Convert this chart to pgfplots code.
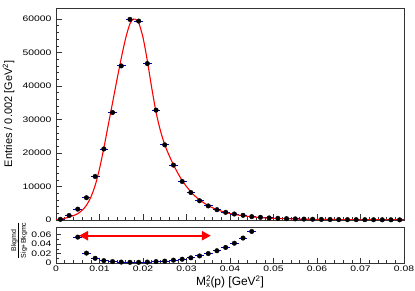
\documentclass[border=0pt]{standalone}
\usepackage{graphicx}
\usepackage{pgfplots}
\usepackage{pgfplotstable}
\pgfplotsset{compat=1.18}
\usepackage{fontspec}
\setmainfont{Liberation Sans}
\usetikzlibrary{arrows.meta}
\newcommand{\hs}[1]{\scalebox{1.3}[1]{#1}}

\pgfplotstableread{
x y
0.001 200
0.003 1350
0.005 3250
0.007 6650
0.009 13000
0.011 21200
0.013 32100
0.015 46000
0.017 59900
0.019 59400
0.021 46700
0.023 32800
0.025 22450
0.027 16400
0.029 11500
0.031 8200
0.033 5750
0.035 4200
0.037 3070
0.039 2290
0.041 1790
0.043 1400
0.045 1000
0.047 800
0.049 620
0.051 500
0.053 400
0.055 330
0.057 270
0.059 220
0.061 180
0.063 150
0.065 130
0.067 110
0.069 100
0.071 90
0.073 80
0.075 70
0.077 60
0.079 50
}\datatab

\pgfplotstableread{
x y
0.000 100
0.001 230
0.002 500
0.003 850
0.004 1300
0.005 1900
0.006 2900
0.007 4400
0.008 6800
0.009 10300
0.010 15300
0.011 21500
0.012 28300
0.013 35000
0.014 41800
0.015 48300
0.016 54200
0.017 58600
0.0178 60000
0.0185 59700
0.019 59000
0.020 54500
0.021 47500
0.022 39500
0.023 32200
0.024 26700
0.025 22500
0.026 19300
0.027 16500
0.028 14000
0.029 11800
0.030 10000
0.031 8400
0.032 7100
0.033 6000
0.034 5100
0.035 4300
0.036 3650
0.037 3100
0.038 2650
0.039 2250
0.040 1950
0.042 1450
0.044 1100
0.046 830
0.048 640
0.050 500
0.055 300
0.060 190
0.065 130
0.070 95
0.075 70
0.080 55
}\fittab

\pgfplotstableread{
x y
0.005 0.055
0.007 0.021
0.009 0.010
0.011 0.005
0.013 0.003
0.015 0.002
0.017 0.0015
0.019 0.0015
0.021 0.002
0.023 0.003
0.025 0.004
0.027 0.006
0.029 0.008
0.031 0.011
0.033 0.015
0.035 0.020
0.037 0.026
0.039 0.033
0.041 0.042
0.043 0.053
0.045 0.067
}\ratiotab

\begin{document}
\begin{tikzpicture}
\useasboundingbox (0bp,0bp) rectangle (415bp,291bp);
\pgfplotsset{
  every axis/.append style={
    scale only axis, width=348bp,
    xmin=0, xmax=0.08,
    scaled ticks=false,
    tick align=inside, tick pos=left,
    major tick length=6bp, minor tick length=3bp,
    axis line style={black!80, line width=0.8bp},
    every tick/.style={black!80, line width=0.6bp},
    tick label style={font=\fontsize{8}{9.6}\selectfont},
    minor x tick num=4,
  },
}
\begin{axis}[
  at={(56bp,71bp)}, anchor=south west, height=212bp,
  ymin=0, ymax=63300,
  xtick={0,0.01,0.02,0.03,0.04,0.05,0.06,0.07,0.08},
  xticklabels={},
  ytick={0,10000,20000,30000,40000,50000,60000},
  yticklabels={\hs{0},\hs{10000},\hs{20000},\hs{30000},\hs{40000},\hs{50000},\hs{60000}},
  minor y tick num=4,
  yticklabel style={anchor=east, xshift=-1bp},
  every axis y label/.style={at={(axis description cs:0,0.5)}, xshift=-47.5bp, rotate=90, anchor=center, font=\fontsize{11}{13}\selectfont},
  ylabel={Entries / 0.002 [GeV\textsuperscript{2}]},
]
\addplot[only marks, mark=*, mark size=2.3bp, black,
  error bars/.cd, x dir=both, x fixed=0.001,
  error bar style={blue!75!black, line width=0.9bp}, error mark=none]
  table[x=x,y=y]{\datatab};
\addplot[red, line width=1.1bp, smooth, tension=0.5] table[x=x,y=y]{\fittab};
\end{axis}

\begin{axis}[
  at={(56bp,28bp)}, anchor=south west, height=35.3bp,
  ymin=0, ymax=0.075,
  xtick={0,0.01,0.02,0.03,0.04,0.05,0.06,0.07,0.08},
  xticklabels={\hs{0},\hs{0.01},\hs{0.02},\hs{0.03},\hs{0.04},\hs{0.05},\hs{0.06},\hs{0.07},\hs{0.08}},
  ytick={0,0.02,0.04,0.06},
  yticklabels={\hs{0},\hs{0.02},\hs{0.04},\hs{0.06}},
  minor y tick num=1,
  major tick length=5bp, minor tick length=2.5bp,
  yticklabel style={anchor=east, xshift=-1bp},
  xticklabel style={yshift=1bp},
  every axis x label/.style={at={(axis description cs:0.5,0)}, yshift=-18.7bp, anchor=center, font=\fontsize{12}{14}\selectfont},
  xlabel={M\rlap{\textsuperscript{2}}\textsubscript{x}(p) [GeV\textsuperscript{2}]},
  every axis y label/.style={at={(axis description cs:0,0.5)}, xshift=-36.5bp, yshift=5bp, rotate=90, anchor=center, font=\fontsize{7}{8}\selectfont},
  ylabel={\begin{tabular}{@{}c@{}}Bkgmd\\[-1pt]\hline\rule{0pt}{8pt}Sig+Bkgmc\end{tabular}},
]
\addplot[only marks, mark=*, mark size=2.3bp, black,
  error bars/.cd, x dir=both, x fixed=0.001,
  error bar style={blue!75!black, line width=0.9bp}, error mark=none]
  table[x=x,y=y]{\ratiotab};
\addplot[red, line width=2.4bp, {Triangle[length=9bp,width=9bp]}-{Triangle[length=9bp,width=9bp]}]
  coordinates {(0.0053,0.058) (0.0356,0.058)};
\end{axis}
\end{tikzpicture}
\end{document}
